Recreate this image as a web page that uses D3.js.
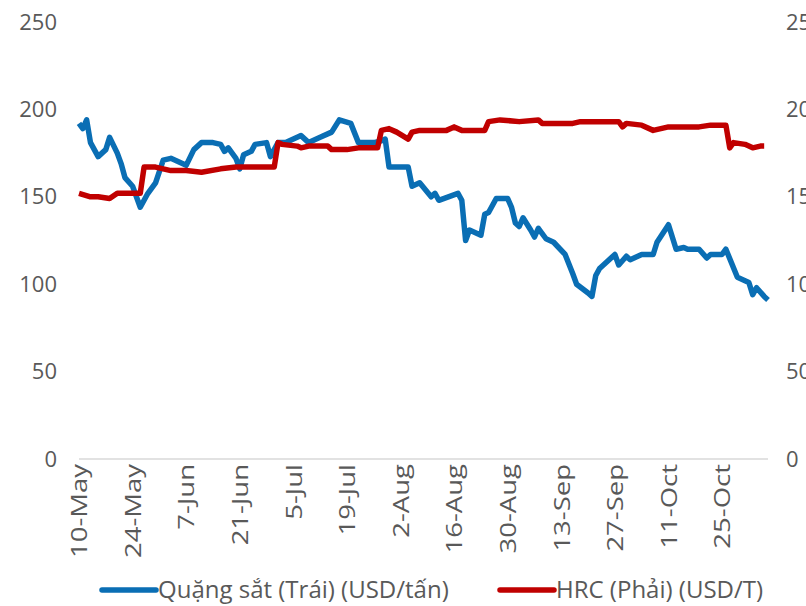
<!DOCTYPE html>
<html>
<head>
<meta charset="utf-8">
<script src="https://cdn.jsdelivr.net/npm/d3@7"></script>
<style>
  body { margin: 0; background: #fff; }
  text { font-family: "Open Sans", sans-serif; fill: #595959; }
</style>
</head>
<body>
<script>
// Iron ore (left axis), USD/tan
var oreDates = ["2021-05-10","2021-05-11","2021-05-12","2021-05-13","2021-05-15","2021-05-17","2021-05-18","2021-05-20","2021-05-21","2021-05-22",
  "2021-05-24","2021-05-25","2021-05-26","2021-05-28","2021-05-30","2021-06-01","2021-06-03","2021-06-05","2021-06-07","2021-06-09",
  "2021-06-11","2021-06-14","2021-06-16","2021-06-17","2021-06-18","2021-06-20","2021-06-21","2021-06-22","2021-06-24","2021-06-25",
  "2021-06-28","2021-06-29","2021-07-01","2021-07-03","2021-07-05","2021-07-07","2021-07-09","2021-07-12","2021-07-15","2021-07-17",
  "2021-07-20","2021-07-22","2021-07-26","2021-07-28","2021-07-29","2021-07-30","2021-08-03","2021-08-04","2021-08-05","2021-08-07",
  "2021-08-10","2021-08-11","2021-08-12","2021-08-17","2021-08-18","2021-08-19","2021-08-20","2021-08-23","2021-08-24","2021-08-25",
  "2021-08-27","2021-08-30","2021-08-31","2021-09-01","2021-09-02","2021-09-03","2021-09-05","2021-09-06","2021-09-07","2021-09-09",
  "2021-09-11","2021-09-14","2021-09-16","2021-09-17","2021-09-20","2021-09-21","2021-09-22","2021-09-23","2021-09-24","2021-09-27",
  "2021-09-28","2021-09-30","2021-10-01","2021-10-04","2021-10-07","2021-10-08","2021-10-11","2021-10-13","2021-10-15","2021-10-16",
  "2021-10-19","2021-10-21","2021-10-22","2021-10-25","2021-10-26","2021-10-29","2021-11-01","2021-11-02","2021-11-03","2021-11-05",
  "2021-11-06"];
var oreValues = [192,189,194,181,173,177,184,175,169,161,
  156,150,144,152,158,171,172,170,168,177,
  181,181,180,176,178,172,166,174,176,180,
  181,173,181,181,183,185,181,184,187,194,
  192,181,181,182,183,167,167,167,156,158,
  150,152,148,152,148,125,131,128,140,141,
  149,149,144,135,133,138,131,127,132,126,
  124,117,106,100,95,93,105,109,111,117,
  111,116,114,117,117,124,134,120,121,120,
  120,115,117,117,120,104,101,94,98,93,
  91];

// HRC (right axis), USD/T
var hrcDates = ["2021-05-10","2021-05-13","2021-05-15","2021-05-18","2021-05-20","2021-05-26","2021-05-27","2021-05-30","2021-06-03","2021-06-07",
  "2021-06-11","2021-06-16","2021-06-20","2021-06-30","2021-07-01","2021-07-02","2021-07-06","2021-07-07","2021-07-09","2021-07-14",
  "2021-07-15","2021-07-19","2021-07-22","2021-07-27","2021-07-28","2021-07-30","2021-08-01","2021-08-04","2021-08-05","2021-08-07",
  "2021-08-14","2021-08-16","2021-08-18","2021-08-24","2021-08-25","2021-08-28","2021-09-02","2021-09-07","2021-09-08","2021-09-14",
  "2021-09-16","2021-09-18","2021-09-28","2021-09-29","2021-09-30","2021-10-04","2021-10-07","2021-10-11","2021-10-19","2021-10-22",
  "2021-10-26","2021-10-27","2021-10-28","2021-10-31","2021-11-02","2021-11-04","2021-11-05"];
var hrcValues = [152,150,150,149,152,152,167,167,165,165,
  164,166,167,167,181,180,179,178,179,179,
  177,177,178,178,188,189,187,183,187,188,
  188,190,188,188,193,194,193,194,192,192,
  192,193,193,190,192,191,188,190,190,191,
  191,178,181,180,178,179,179];

var tickLabels = ["10-May","24-May","7-Jun","21-Jun","5-Jul","19-Jul","2-Aug","16-Aug","30-Aug","13-Sep","27-Sep","11-Oct","25-Oct"];
var leftTicks = [0,50,100,150,200,250];
var rightTicks = [0,50,100,150,200,250];
var seriesNames = ["Quặng sắt (Trái) (USD/tấn)", "HRC (Phải) (USD/T)"];

var width = 806, height = 606;
var parse = d3.timeParse("%Y-%m-%d");
var parseTick = d3.timeParse("%d-%b-%Y");

var svg = d3.select("body").append("svg")
  .attr("width", width)
  .attr("height", height);

var x = d3.scaleTime()
  .domain([parse("2021-05-10"), parse("2021-11-06")])
  .range([79, 768]);

var yLeft = d3.scaleLinear().domain([0, 250]).range([459, 22]);
var yRight = d3.scaleLinear().domain([0, 250]).range([459, 22]);

// left axis
var leftAxis = svg.append("g")
  .attr("transform", "translate(57,0)")
  .call(d3.axisLeft(yLeft).tickValues(leftTicks).tickSize(0).tickPadding(0));
leftAxis.select(".domain").remove();
leftAxis.selectAll("text").style("font-size", "22px").attr("fill", "#595959");

// right axis (cut off by the page edge, as in the source)
var rightAxis = svg.append("g")
  .attr("transform", "translate(786,0)")
  .call(d3.axisRight(yRight).tickValues(rightTicks).tickSize(0).tickPadding(0));
rightAxis.select(".domain").remove();
rightAxis.selectAll("text").style("font-size", "22px").attr("fill", "#595959");

// x axis line
svg.append("line")
  .attr("x1", 79).attr("x2", 768)
  .attr("y1", yLeft(0)).attr("y2", yLeft(0))
  .attr("stroke", "#d9d9d9")
  .attr("stroke-width", 1.5);

var xAxis = svg.append("g")
  .attr("transform", "translate(0," + yLeft(0) + ")")
  .call(d3.axisBottom(x)
    .tickValues(tickLabels.map(function(t) { return parseTick(t + "-2021"); }))
    .tickFormat(function(d, i) { return tickLabels[i]; })
    .tickSize(0));
xAxis.select(".domain").remove();
xAxis.selectAll("text")
  .style("font-size", "22px")
  .attr("fill", "#595959")
  .attr("text-anchor", "end")
  .attr("dy", "0.35em")
  .attr("transform", "translate(0,5) rotate(-90) scale(1.25,1)")
  .attr("x", 0).attr("y", 0);

// lines
var oreData = oreDates.map(function(d, i) { return { date: parse(d), value: oreValues[i] }; });
var hrcData = hrcDates.map(function(d, i) { return { date: parse(d), value: hrcValues[i] }; });

var oreLine = d3.line().x(function(d) { return x(d.date); }).y(function(d) { return yLeft(d.value); });
var hrcLine = d3.line().x(function(d) { return x(d.date); }).y(function(d) { return yRight(d.value); });

svg.append("path")
  .datum(oreData)
  .attr("d", oreLine)
  .attr("fill", "none")
  .attr("stroke", "#0a6eb4")
  .attr("stroke-width", 5.5)
  .attr("stroke-linejoin", "round");

svg.append("path")
  .datum(hrcData)
  .attr("d", hrcLine)
  .attr("fill", "none")
  .attr("stroke", "#c00000")
  .attr("stroke-width", 5.5)
  .attr("stroke-linejoin", "round");

// legend
var legendColors = ["#0a6eb4", "#c00000"];
var legendX = [102, 500];
seriesNames.forEach(function(name, i) {
  var g = svg.append("g").attr("transform", "translate(" + legendX[i] + ",590)");
  g.append("line")
    .attr("x1", 0).attr("x2", 54)
    .attr("stroke", legendColors[i])
    .attr("stroke-width", 5.5)
    .attr("stroke-linecap", "round");
  g.append("text")
    .attr("x", 56)
    .attr("dy", "0.35em")
    .style("font-size", "24px")
    .text(name);
});
</script>
</body>
</html>
